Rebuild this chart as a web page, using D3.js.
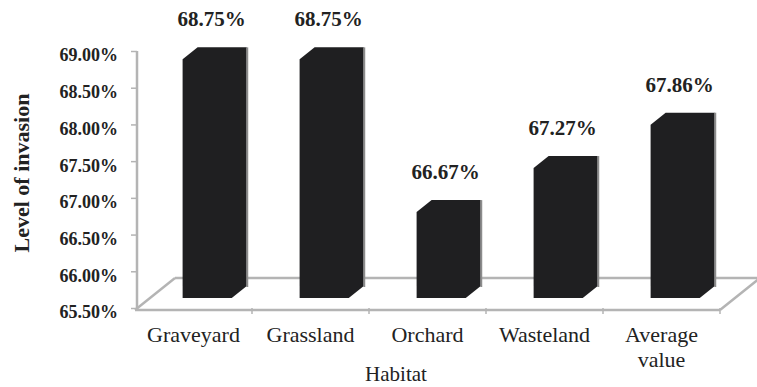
<!DOCTYPE html>
<html>
<head>
<meta charset="utf-8">
<script src="https://cdn.jsdelivr.net/npm/d3@7"></script>
<style>
  html, body { margin: 0; padding: 0; background: #fff; }
  svg { display: block; }
  text { font-family: "Liberation Serif", "Times New Roman", serif; fill: #222; }
</style>
</head>
<body>
<svg id="chart" width="757" height="387"></svg>
<script>
const categories = ["Graveyard", "Grassland", "Orchard", "Wasteland", "Average value"];
const values = [68.75, 68.75, 66.67, 67.27, 67.86];
const valueLabels = ["68.75%", "68.75%", "66.67%", "67.27%", "67.86%"];
const yTicks = [65.5, 66.0, 66.5, 67.0, 67.5, 68.0, 68.5, 69.0];
const yTickLabels = ["65.50%", "66.00%", "66.50%", "67.00%", "67.50%", "68.00%", "68.50%", "69.00%"];
const yTitle = "Level of invasion";
const xTitle = "Habitat";

const svg = d3.select("#chart");

const y = d3.scaleLinear().domain([65.5, 69.0]).range([308, 51]);
const x = d3.scaleBand().domain(categories).range([135, 720]).padding(0);
const bw = x.bandwidth();

// floor geometry (3D depth)
const depthX = 40, depthY = 32;
const floorY = y(65.5) + 2;
const gridColor = "#b4b4b4";

const floor = svg.append("g");
const xL = x.range()[0], xR = x.range()[1];
floor.append("line")
  .attr("x1", xL + depthX).attr("y1", floorY - depthY)
  .attr("x2", xR + depthX).attr("y2", floorY - depthY)
  .attr("stroke", gridColor).attr("stroke-width", 2.5);
floor.append("line")
  .attr("x1", xL).attr("y1", floorY)
  .attr("x2", xL + depthX).attr("y2", floorY - depthY)
  .attr("stroke", gridColor).attr("stroke-width", 2.5);
floor.append("line")
  .attr("x1", xR).attr("y1", floorY)
  .attr("x2", xR + depthX).attr("y2", floorY - depthY)
  .attr("stroke", gridColor).attr("stroke-width", 2.5);

// bars
const fx = 12.5, fy = 10; // front face depth offset
const ox = 15, oy = 12;   // bar depth
const bars = svg.append("g");
categories.forEach((c, i) => {
  const v = values[i];
  const X0 = x(c) + fx + 0.3 * bw;
  const X1 = X0 + 0.42 * bw;
  const Yt = y(v) - fy;
  const Yb = y(65.5) - fy;
  const p = d3.path();
  p.moveTo(X0, Yb);
  p.lineTo(X0, Yt);
  p.lineTo(X0 + ox, Yt - oy);
  p.lineTo(X1 + ox, Yt - oy);
  p.lineTo(X1 + ox, Yb - oy);
  p.lineTo(X1, Yb);
  p.closePath();
  bars.append("path").attr("d", p.toString()).attr("fill", "#1f1f21");
  bars.append("line")
    .attr("x1", X1 + ox + 0.5).attr("y1", Yt - oy)
    .attr("x2", X1 + ox + 0.5).attr("y2", Yb - oy + 1)
    .attr("stroke", "#8c8c8c").attr("stroke-width", 2);
  svg.append("text")
    .attr("x", (X0 + X1 + ox) / 2 - 3)
    .attr("y", Yt - oy - 21)
    .attr("text-anchor", "middle")
    .attr("font-weight", "bold")
    .attr("font-size", 21)
    .text(valueLabels[i]);
});

// front line with ticks at band boundaries
svg.append("line")
  .attr("x1", xL).attr("y1", floorY)
  .attr("x2", xR).attr("y2", floorY)
  .attr("stroke", gridColor).attr("stroke-width", 2.5);
const bounds = categories.map(c => x(c) + bw);
svg.selectAll(".xtick").data(bounds).enter().append("line")
  .attr("x1", d => d).attr("x2", d => d)
  .attr("y1", floorY - 2).attr("y2", floorY + 4)
  .attr("stroke", gridColor).attr("stroke-width", 1.5);

// category labels
categories.forEach((c, i) => {
  const words = c.split(" ");
  const cx = x(c) + bw / 2;
  const t = svg.append("text")
    .attr("x", cx).attr("y", 342)
    .attr("text-anchor", "middle")
    .attr("font-size", 22);
  if (words.length > 1) {
    t.append("tspan").attr("x", cx).attr("dy", 0).text(words[0]);
    t.append("tspan").attr("x", cx).attr("dy", 25).text(words.slice(1).join(" "));
  } else {
    t.text(c);
  }
});

// y axis
const yAxis = d3.axisLeft(y).tickValues(yTicks).tickSize(6)
  .tickFormat((d, i) => yTickLabels[i]);
const ga = svg.append("g").attr("transform", "translate(137,0)").call(yAxis);
ga.select(".domain").attr("stroke", gridColor).attr("stroke-width", 2.5)
  .attr("d", `M0,${y(69)}V${floorY}`);
ga.selectAll(".tick line").attr("stroke", gridColor).attr("stroke-width", 1.5);
ga.selectAll(".tick text")
  .attr("x", -19).attr("dy", "0.55em")
  .attr("font-size", 18).attr("font-weight", "bold");

// titles
svg.append("text")
  .attr("transform", "translate(29,173) rotate(-90)")
  .attr("text-anchor", "middle")
  .attr("font-weight", "bold")
  .attr("font-size", 22)
  .text(yTitle);
svg.append("text")
  .attr("x", 396).attr("y", 381)
  .attr("text-anchor", "middle")
  .attr("font-size", 21)
  .text(xTitle);
</script>
</body>
</html>
